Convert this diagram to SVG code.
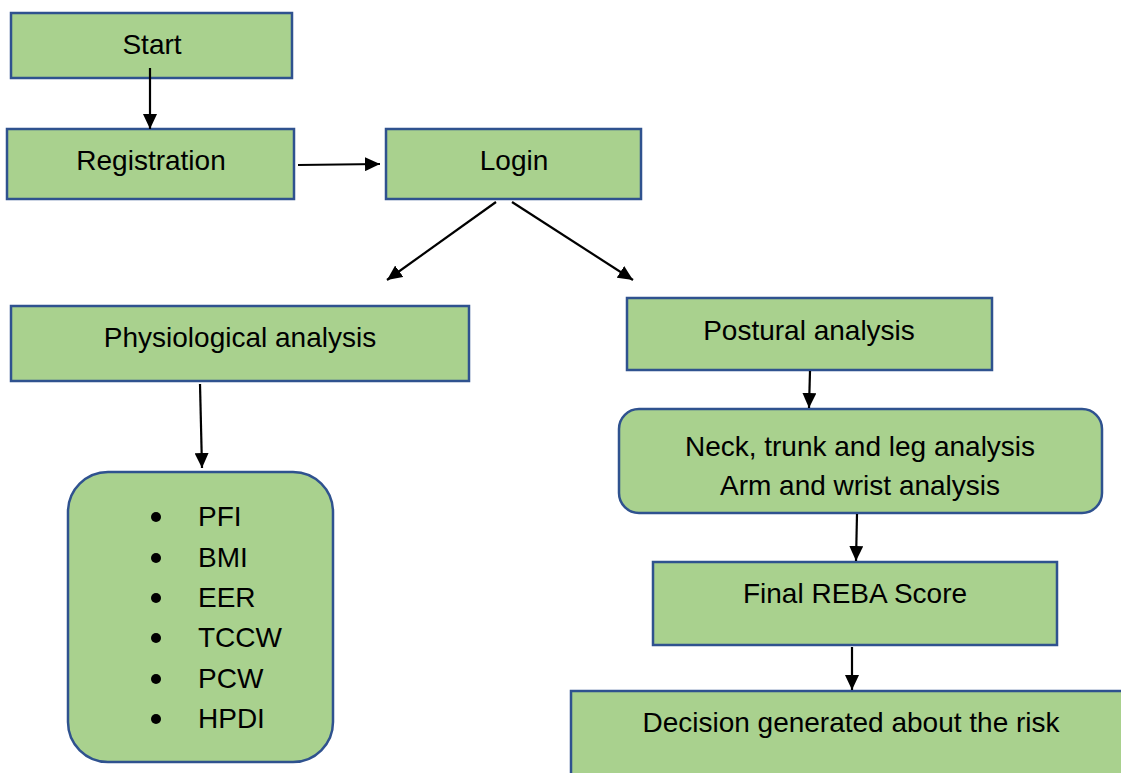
<svg xmlns="http://www.w3.org/2000/svg" width="1121" height="773" viewBox="0 0 1121 773">
  <style>
    .box { fill: #A9D18E; stroke: #2F528F; stroke-width: 2.5; }
    .lbl { font-family: "Liberation Sans", Arial, sans-serif; font-size: 28px; fill: #000; text-anchor: middle; }
    .item { font-family: "Liberation Sans", Arial, sans-serif; font-size: 28px; fill: #000; }
    .conn { stroke: #000; stroke-width: 2.2; fill: none; marker-end: url(#arrow); }
  </style>
  <defs>
    <marker id="arrow" markerUnits="userSpaceOnUse" markerWidth="16" markerHeight="14" refX="15" refY="7" orient="auto">
      <path d="M0,0 L15,7 L0,14 Z" fill="#000"/>
    </marker>
  </defs>
  <rect width="1121" height="773" fill="#fff"/>

  <g id="start">
    <rect class="box" x="11" y="13" width="281" height="65"/>
    <text class="lbl" x="152" y="54">Start</text>
  </g>
  <g id="registration">
    <rect class="box" x="7" y="129" width="287" height="70"/>
    <text class="lbl" x="151" y="170">Registration</text>
  </g>
  <g id="login">
    <rect class="box" x="386" y="129" width="255" height="70"/>
    <text class="lbl" x="514" y="170">Login</text>
  </g>
  <g id="physiological">
    <rect class="box" x="11" y="306" width="458" height="75"/>
    <text class="lbl" x="240" y="347">Physiological analysis</text>
  </g>
  <g id="physio-list">
    <rect class="box" x="68" y="472" width="265" height="290" rx="40" ry="40"/>
    <g fill="#000">
      <circle cx="156" cy="517" r="5"/>
      <circle cx="156" cy="558" r="5"/>
      <circle cx="156" cy="598" r="5"/>
      <circle cx="156" cy="638" r="5"/>
      <circle cx="156" cy="679" r="5"/>
      <circle cx="156" cy="719" r="5"/>
    </g>
    <text class="item" x="198" y="526">PFI</text>
    <text class="item" x="198" y="567">BMI</text>
    <text class="item" x="198" y="607">EER</text>
    <text class="item" x="198" y="647">TCCW</text>
    <text class="item" x="198" y="688">PCW</text>
    <text class="item" x="198" y="728">HPDI</text>
  </g>
  <g id="postural">
    <rect class="box" x="627" y="298" width="365" height="72"/>
    <text class="lbl" x="809" y="340">Postural analysis</text>
  </g>
  <g id="neck-arm">
    <rect class="box" x="619" y="409" width="483" height="104" rx="20" ry="20"/>
    <text class="lbl" x="860" y="456">Neck, trunk and leg analysis</text>
    <text class="lbl" x="860" y="495">Arm and wrist analysis</text>
  </g>
  <g id="reba">
    <rect class="box" x="653" y="562" width="404" height="83"/>
    <text class="lbl" x="855" y="603">Final REBA Score</text>
  </g>
  <g id="decision">
    <rect class="box" x="571" y="691" width="570" height="100"/>
    <text class="lbl" x="851" y="732">Decision generated about the risk</text>
  </g>

  <g id="connectors">
    <line class="conn" x1="150" y1="68" x2="150" y2="129"/>
    <line class="conn" x1="298" y1="165" x2="380" y2="164"/>
    <line class="conn" x1="496" y1="202" x2="387" y2="280"/>
    <line class="conn" x1="512" y1="202" x2="633" y2="280"/>
    <line class="conn" x1="200" y1="384" x2="202" y2="468"/>
    <line class="conn" x1="810" y1="371" x2="809" y2="408"/>
    <line class="conn" x1="857" y1="514" x2="856" y2="561"/>
    <line class="conn" x1="852" y1="647" x2="852" y2="690"/>
  </g>
</svg>
